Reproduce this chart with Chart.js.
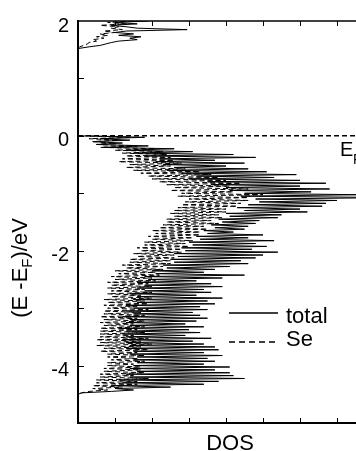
<!DOCTYPE html>
<html lang="en">

<head>
    <meta charset="UTF-8">
    <title>DOS total / Se</title>
    <style>
        body {
            margin: 0;
            padding: 0;
            background-color: #fff;
            overflow: hidden;
        }

        #dosChart {
            display: block;
        }
    </style>
</head>

<body>
    <canvas id="dosChart" width="400" height="451"></canvas>

    <script src="https://cdn.jsdelivr.net/npm/chart.js"></script>
    <script>
        // conduction band (E - EF from 2.0 down to 1.5 eV)
        const condE = [2.0, 1.975, 1.95, 1.925, 1.9, 1.875, 1.85, 1.825, 1.8, 1.775, 1.75,
            1.725, 1.7, 1.675, 1.65, 1.625, 1.6, 1.575, 1.55, 1.525, 1.5];
        const condTotal = [1.9, 1.0, 1.6, 0.9, 1.3, 1.6, 2.95, 1.3, 1.0, 1.5, 1.1,
            1.7, 1.4, 1.6, 1.1, 0.9, 0.75, 0.6, 0.3, 0.05, 0];
        const condSe = [1.5, 0.8, 1.3, 0.6, 1.1, 0.9, 1.2, 0.7, 1.0, 0.6, 0.8,
            0.5, 0.7, 0.4, 0.5, 0.3, 0.25, 0.15, 0.05, 0, 0];

        // valence band (0 down to -4.5 eV)
        const valE = [0,
            -0.025, -0.05, -0.075, -0.1, -0.125, -0.15, -0.175, -0.2,
            -0.225, -0.25, -0.275, -0.3, -0.325, -0.35, -0.375, -0.4,
            -0.425, -0.45, -0.475, -0.5, -0.525, -0.55, -0.575, -0.6,
            -0.625, -0.65, -0.675, -0.7, -0.725, -0.75, -0.775, -0.8,
            -0.825, -0.85, -0.875, -0.9, -0.925, -0.95, -0.975, -1.0,
            -1.025, -1.05, -1.075, -1.1, -1.125, -1.15, -1.175, -1.2,
            -1.225, -1.25, -1.275, -1.3, -1.325, -1.35, -1.375, -1.4,
            -1.425, -1.45, -1.475, -1.5, -1.525, -1.55, -1.575, -1.6,
            -1.625, -1.65, -1.675, -1.7, -1.725, -1.75, -1.775, -1.8,
            -1.825, -1.85, -1.875, -1.9, -1.925, -1.95, -1.975, -2.0,
            -2.025, -2.05, -2.075, -2.1, -2.125, -2.15, -2.175, -2.2,
            -2.225, -2.25, -2.275, -2.3, -2.325, -2.35, -2.375, -2.4,
            -2.425, -2.45, -2.475, -2.5, -2.525, -2.55, -2.575, -2.6,
            -2.625, -2.65, -2.675, -2.7, -2.725, -2.75, -2.775, -2.8,
            -2.825, -2.85, -2.875, -2.9, -2.925, -2.95, -2.975, -3.0,
            -3.025, -3.05, -3.075, -3.1, -3.125, -3.15, -3.175, -3.2,
            -3.225, -3.25, -3.275, -3.3, -3.325, -3.35, -3.375, -3.4,
            -3.425, -3.45, -3.475, -3.5, -3.525, -3.55, -3.575, -3.6,
            -3.625, -3.65, -3.675, -3.7, -3.725, -3.75, -3.775, -3.8,
            -3.825, -3.85, -3.875, -3.9, -3.925, -3.95, -3.975, -4.0,
            -4.025, -4.05, -4.075, -4.1, -4.125, -4.15, -4.175, -4.2,
            -4.225, -4.25, -4.275, -4.3, -4.325, -4.35, -4.375, -4.4,
            -4.425, -4.45, -4.475, -4.5];
        const valTotal = [0.2,
            1.8, 0.6, 1.4, 0.4, 1.2, 0.5, 1.9, 0.7,
            2.6, 1.3, 3.1, 1.5, 4.2, 1.8, 4.8, 2.2,
            3.7, 2.1, 4.5, 2.3, 4.0, 2.6, 4.6, 2.4,
            5.1, 2.8, 5.9, 3.2, 5.3, 3.0, 6.0, 3.5,
            6.7, 3.6, 6.0, 4.0, 6.8, 4.1, 6.3, 4.5,
            7.6, 4.4, 8.6, 4.8, 7.0, 4.9, 6.7, 4.6,
            6.6, 4.3, 6.0, 4.5, 6.2, 4.0, 5.5, 4.1,
            5.4, 3.8, 4.9, 3.9, 4.8, 3.6, 4.6, 3.7,
            4.5, 3.4, 4.2, 3.5, 5.0, 3.2, 4.6, 3.3,
            5.3, 3.0, 4.8, 3.1, 5.1, 2.8, 4.7, 2.9,
            5.4, 2.6, 5.0, 2.7, 4.8, 2.5, 4.4, 2.6,
            4.6, 2.3, 4.1, 2.4, 3.7, 2.0, 3.4, 2.1,
            4.5, 1.8, 3.9, 1.9, 3.2, 1.6, 3.6, 1.8,
            3.9, 1.6, 3.4, 1.8, 3.6, 1.4, 3.2, 1.6,
            3.9, 1.5, 3.5, 1.6, 3.7, 1.3, 3.3, 1.5,
            3.5, 1.3, 3.1, 1.5, 3.3, 1.2, 3.5, 1.4,
            3.2, 1.3, 2.9, 1.4, 3.4, 1.1, 3.0, 1.3,
            3.3, 1.2, 2.9, 1.3, 3.6, 1.2, 3.1, 1.3,
            3.4, 1.4, 3.7, 1.3, 3.8, 1.5, 3.4, 1.4,
            3.9, 1.6, 3.5, 1.5, 3.7, 1.6, 3.4, 1.5,
            4.1, 1.4, 3.7, 1.6, 4.1, 1.3, 4.2, 1.4,
            4.5, 1.1, 3.8, 1.2, 3.4, 0.9, 2.5, 1.0,
            1.5, 0.9, 0.1, 0];
        const valSe = [0.1,
            1.4, 0.3, 1.1, 0.4, 0.9, 0.5, 1.6, 0.6,
            2.1, 1.0, 2.3, 1.2, 2.4, 1.3, 2.5, 1.2,
            2.6, 1.1, 2.8, 1.4, 2.5, 1.3, 2.9, 1.5,
            3.3, 1.7, 3.6, 1.9, 3.8, 2.0, 4.0, 2.2,
            4.4, 2.4, 4.1, 2.6, 4.6, 2.5, 4.2, 2.8,
            5.0, 2.7, 4.6, 3.0, 4.6, 2.9, 4.4, 2.8,
            4.3, 2.7, 4.0, 2.6, 4.0, 2.5, 3.8, 2.6,
            3.9, 2.4, 3.6, 2.4, 3.8, 2.3, 3.4, 2.2,
            3.5, 2.0, 3.3, 2.1, 3.3, 1.9, 3.1, 2.0,
            3.1, 1.8, 2.9, 1.8, 3.0, 1.6, 2.8, 1.7,
            2.8, 1.5, 2.6, 1.6, 2.6, 1.4, 2.5, 1.4,
            2.5, 1.2, 2.3, 1.3, 2.3, 1.0, 2.1, 1.1,
            2.2, 0.9, 2.0, 1.0, 2.1, 0.8, 1.9, 0.9,
            2.0, 0.8, 1.8, 0.9, 2.0, 0.8, 1.7, 0.9,
            2.0, 0.7, 1.8, 0.8, 1.9, 0.7, 1.6, 0.8,
            1.9, 0.7, 1.7, 0.7, 1.8, 0.6, 1.6, 0.7,
            1.8, 0.6, 1.5, 0.7, 1.8, 0.6, 1.6, 0.6,
            1.8, 0.6, 1.5, 0.6, 1.9, 0.5, 1.7, 0.6,
            2.0, 0.5, 1.7, 0.7, 1.9, 0.6, 1.6, 0.8,
            1.8, 0.8, 1.6, 0.9, 1.8, 0.8, 1.5, 0.8,
            1.7, 0.7, 1.7, 0.7, 1.8, 0.6, 1.5, 0.6,
            1.9, 0.5, 1.6, 0.5, 1.6, 0.4, 1.2, 0.4,
            0.8, 0.3, 0.1, 0];

        const fermiLevel = 0;
        const xTicks = [1, 2, 3, 4, 5, 6, 7];
        const yTicks = [1, 0, -1, -2, -3, -4];
        const yLabels = [2, 0, -2, -4];
        const xMin = 0, xMax = 8, yMin = -5, yMax = 2;

        const FONT = "Arial, 'Liberation Sans', Helvetica, sans-serif";

        function pts(es, vs) {
            return es.map((e, i) => ({ x: vs[i], y: e }));
        }

        function line(ctx, x1, y1, x2, y2) {
            ctx.beginPath();
            ctx.moveTo(x1, y1);
            ctx.lineTo(x2, y2);
            ctx.stroke();
        }

        // frame, inward ticks, legend and the text labels
        const decorations = {
            id: 'decorations',
            afterDraw(chart) {
                const { ctx, chartArea: a, scales: { x, y } } = chart;
                ctx.save();
                ctx.strokeStyle = '#000';
                ctx.fillStyle = '#000';

                ctx.lineWidth = 1;
                xTicks.forEach(v => {
                    const px = Math.round(x.getPixelForValue(v)) + 0.5;
                    line(ctx, px, a.bottom, px, a.bottom - 5);
                    line(ctx, px, a.top, px, a.top + 5);
                });
                yTicks.forEach(v => {
                    const py = Math.round(y.getPixelForValue(v)) + 0.5;
                    line(ctx, a.left, py, a.left + 6, py);
                });

                ctx.lineWidth = 2;
                line(ctx, a.left, a.top - 1, a.left, a.bottom + 1);
                line(ctx, a.left - 1, a.bottom, a.right, a.bottom);
                ctx.lineWidth = 1.5;
                line(ctx, a.left, a.top, a.right, a.top);

                // legend
                ctx.lineWidth = 1.5;
                line(ctx, 229, 313, 278, 313);
                ctx.setLineDash([6, 4]);
                line(ctx, 229, 342, 278, 342);
                ctx.setLineDash([]);
                ctx.font = '22px ' + FONT;
                ctx.textAlign = 'left';
                ctx.textBaseline = 'alphabetic';
                ctx.fillText('total', 286, 323);
                ctx.fillText('Se', 286, 346);

                // x title
                ctx.textAlign = 'center';
                ctx.fillText('DOS', 230, 450);

                // Fermi level label
                ctx.textAlign = 'left';
                ctx.font = '20px ' + FONT;
                ctx.fillText('E', 340, 156);
                ctx.font = '14px ' + FONT;
                ctx.fillText('F', 353, 164);

                // y title
                ctx.translate(27, 268);
                ctx.rotate(-Math.PI / 2);
                ctx.font = '22px ' + FONT;
                const p1 = '(E -E', p3 = ')/eV';
                const w1 = ctx.measureText(p1).width;
                const w3 = ctx.measureText(p3).width;
                ctx.font = '15px ' + FONT;
                const w2 = ctx.measureText('F').width;
                let cx = -(w1 + w2 + w3) / 2;
                ctx.font = '22px ' + FONT;
                ctx.fillText(p1, cx, 0);
                cx += w1;
                ctx.font = '15px ' + FONT;
                ctx.fillText('F', cx, 5);
                cx += w2;
                ctx.font = '22px ' + FONT;
                ctx.fillText(p3, cx, 0);
                ctx.restore();
            }
        };

        const ctx = document.getElementById('dosChart').getContext('2d');

        new Chart(ctx, {
            type: 'scatter',
            data: {
                datasets: [{
                    label: 'EF',
                    data: [{ x: xMin, y: fermiLevel }, { x: xMax, y: fermiLevel }],
                    showLine: true,
                    borderColor: '#000',
                    borderWidth: 1.5,
                    borderDash: [5, 3],
                    pointRadius: 0
                }, {
                    label: 'Se',
                    data: pts(condE, condSe),
                    showLine: true,
                    borderColor: '#000',
                    borderWidth: 1,
                    borderDash: [5, 3],
                    pointRadius: 0
                }, {
                    label: 'Se',
                    data: pts(valE, valSe),
                    showLine: true,
                    borderColor: '#000',
                    borderWidth: 1,
                    borderDash: [5, 3],
                    pointRadius: 0
                }, {
                    label: 'total',
                    data: pts(condE, condTotal),
                    showLine: true,
                    borderColor: '#000',
                    borderWidth: 1,
                    pointRadius: 0
                }, {
                    label: 'total',
                    data: pts(valE, valTotal),
                    showLine: true,
                    borderColor: '#000',
                    borderWidth: 1,
                    pointRadius: 0
                }]
            },
            options: {
                responsive: false,
                animation: false,
                layout: { padding: { top: 17, right: 26, left: 0, bottom: 0 } },
                plugins: {
                    legend: { display: false },
                    tooltip: { enabled: false }
                },
                scales: {
                    x: {
                        type: 'linear',
                        min: xMin,
                        max: xMax,
                        grid: { display: false },
                        border: { display: false },
                        ticks: { display: false },
                        afterFit: s => { s.height = 28; }
                    },
                    y: {
                        type: 'linear',
                        min: yMin,
                        max: yMax,
                        grid: { display: false, drawTicks: false },
                        border: { display: false },
                        ticks: {
                            stepSize: 1,
                            padding: 9,
                            labelOffset: 5,
                            color: '#000',
                            font: { size: 20, family: FONT },
                            callback: v => yLabels.includes(v) ? String(v) : ''
                        },
                        afterFit: s => { s.width = 78; }
                    }
                }
            },
            plugins: [decorations]
        });
    </script>
</body>

</html>
